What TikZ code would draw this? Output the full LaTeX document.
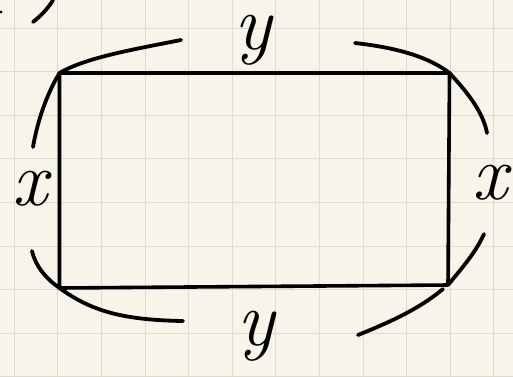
\documentclass[tikz,border=0pt]{standalone}
\usepackage{fontspec}
\definecolor{paper}{HTML}{F7F5E9}
\definecolor{gridc}{HTML}{DCDBCE}
\begin{document}
\begin{tikzpicture}[x=1pt,y=-1pt,
  ink/.style={line width=3.6pt,line cap=round,line join=round,black},
  pen/.style={line width=3.8pt,line cap=round,black},
  lbl/.style={inner sep=0pt,font=\fontsize{78}{78}\selectfont\itshape}]
\fill[paper] (0,0) rectangle (513,376);
\useasboundingbox (0,0) rectangle (513,376);
\foreach \i in {0,...,11} {\draw[gridc,line width=0.9pt] ({14.3+43.6*\i},0) -- ({14.3+43.6*\i},376);}
\foreach \j in {0,...,8} {\draw[gridc,line width=0.9pt] (0,{28+43.6*\j}) -- (513,{28+43.6*\j});}
% rectangle corners
\coordinate (tl) at (59.5,73);
\coordinate (tr) at (449.5,73);
\coordinate (br) at (448,285);
\coordinate (bl) at (59.5,288);
\draw[ink] (tl) -- (tr) -- (br) -- (bl) -- cycle;
% brace ends
\coordinate (a1) at (181,40);
\coordinate (a2) at (33,147);
\coordinate (b1) at (355,43);
\coordinate (b2) at (487,133);
\coordinate (c1) at (32,251);
\coordinate (c2) at (183,321);
\coordinate (d1) at (484,234);
\coordinate (d2) at (358,335);
\coordinate (e1) at (33,22);
\coordinate (e2) at (53,0);
\draw[pen] (a1) .. controls (130,50) and (85,58) .. (tl);
\draw[pen] (tl) .. controls (48,92) and (38,118) .. (a2);
\draw[pen] (b1) .. controls (400,48) and (430,58) .. (tr);
\draw[pen] (tr) .. controls (468,93) and (483,112) .. (b2);
\draw[pen] (c1) .. controls (36,268) and (48,280) .. (bl) .. controls (90,310) and (120,320) .. (c2);
\draw[pen] (br) .. controls (462,268) and (476,252) .. (d1);
\draw[pen] (443,289) .. controls (420,308) and (395,320) .. (d2);
\draw[pen] (e1) .. controls (42,15) and (49,7) .. (e2);
\fill[black] (1,12) circle (1.6);
% labels
\node[lbl] (ytop) at (253,40) {y};
\node[lbl] (xleft) at (30,189) {x};
\node[lbl] (xright) at (490,183) {x};
\node[lbl] (ybot) at (256,336) {y};
\end{tikzpicture}
\end{document}
